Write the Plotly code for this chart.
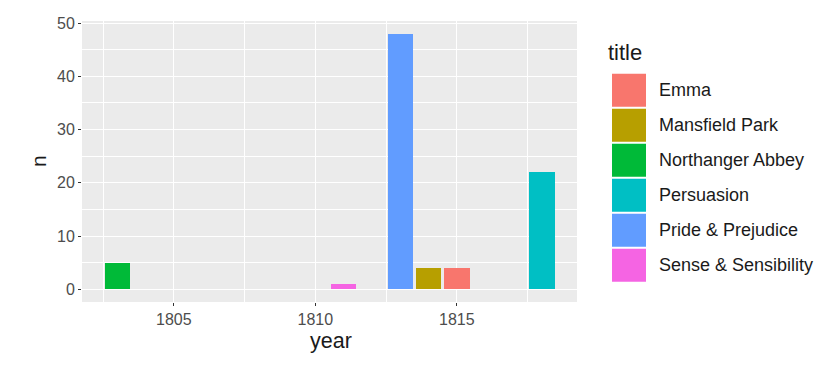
import plotly.graph_objects as go

titles = ["Emma", "Mansfield Park", "Northanger Abbey", "Persuasion",
          "Pride & Prejudice", "Sense & Sensibility"]
years = [1815, 1814, 1803, 1818, 1813, 1811]
counts = [4, 4, 5, 22, 48, 1]
colors = ["#F8766D", "#B79F00", "#00BA38", "#00BFC4", "#619CFF", "#F564E3"]

# page body has an 8px margin, so work in screen pixels and shift
OFF = 8
W, H = 833 - 2 * OFF, 370 - 2 * OFF
P_LEFT, P_RIGHT, P_TOP, P_BOTTOM = 82, 577, 15, 302  # panel, screen px
L, T = P_LEFT - OFF, P_TOP - OFF
R, B = W - (P_RIGHT - OFF), H - (P_BOTTOM - OFF)
pw, ph = P_RIGHT - P_LEFT, P_BOTTOM - P_TOP


def px(x):
    return (x - P_LEFT) / pw


def py(y):
    return (P_BOTTOM - y) / ph


INK = "#1a1a1a"

fig = go.Figure()
for t, yr, n, c in zip(titles, years, counts, colors):
    fig.add_trace(go.Bar(x=[yr], y=[n], name=t, marker_color=c,
                         marker_line_width=0, width=0.9, showlegend=False))

# ggplot-style legend and axis titles drawn by hand
shapes = []
annotations = [
    dict(text="title", x=px(606), y=py(47), xanchor="left", yanchor="middle",
         font=dict(size=22, color=INK)),
    dict(text="year", x=px(331), y=py(342), xanchor="center", yanchor="middle",
         font=dict(size=21.5, color=INK)),
    dict(text="n", x=px(38), y=py(158), xanchor="center", yanchor="middle",
         textangle=-90, font=dict(size=21, color=INK)),
]
key_top, key_h = 68, 35.7
for i, (t, c) in enumerate(zip(titles, colors)):
    y0 = key_top + i * key_h
    shapes.append(dict(type="rect", xref="paper", yref="paper",
                       x0=px(612), x1=px(646), y0=py(y0 + key_h - 1), y1=py(y0 + 1),
                       fillcolor=c, line_width=0))
    annotations.append(dict(text=t, x=px(657), y=py(y0 + key_h / 2),
                            xanchor="left", yanchor="middle",
                            font=dict(size=18, color=INK)))
for a in annotations:
    a.update(xref="paper", yref="paper", showarrow=False)

axis_common = dict(
    showgrid=True, gridcolor="white", gridwidth=1.4, zeroline=False,
    ticks="outside", ticklen=3, tickcolor="#333333", ticklabeloverflow="allow",
    tickfont=dict(size=16, color="#4D4D4D"),
)

fig.update_layout(
    width=W, height=H,
    margin=dict(l=L, r=R, t=T, b=B),
    paper_bgcolor="white", plot_bgcolor="#EBEBEB",
    font=dict(family="Liberation Sans, Arial, sans-serif"),
    bargap=0, showlegend=False,
    shapes=shapes, annotations=annotations,
    xaxis=dict(range=[1801.755, 1819.245], tickmode="linear", tick0=1805, dtick=5,
               minor=dict(tickmode="linear", tick0=1802.5, dtick=5, showgrid=True,
                          gridcolor="white", gridwidth=0.6, ticklen=0),
               **axis_common),
    yaxis=dict(range=[-2.4, 50.4], tickmode="linear", tick0=0, dtick=10,
               minor=dict(tickmode="linear", tick0=5, dtick=10, showgrid=True,
                          gridcolor="white", gridwidth=0.6, ticklen=0),
               **axis_common),
)

fig.write_html("out.html")
